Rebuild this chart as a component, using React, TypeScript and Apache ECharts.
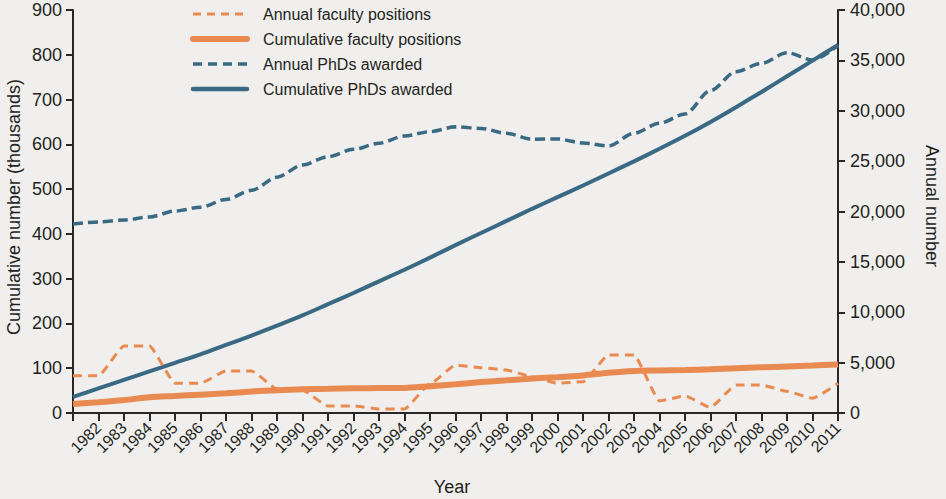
import React, { useEffect, useRef } from "react";
import * as echarts from "echarts";

const years = [
  "1981", "1982", "1983", "1984", "1985", "1986", "1987", "1988", "1989", "1990",
  "1991", "1992", "1993", "1994", "1995", "1996", "1997", "1998", "1999", "2000",
  "2001", "2002", "2003", "2004", "2005", "2006", "2007", "2008", "2009", "2010", "2011",
];

// Right axis (annual number)
const annualFaculty = [
  3700, 3700, 6650, 6650, 2950, 2950, 4170, 4170, 2400, 2250,
  700, 700, 400, 400, 2900, 4760, 4500, 4270, 3600, 2950,
  3100, 5760, 5760, 1200, 1690, 560, 2780, 2780, 2150, 1460, 2950,
];
const annualPhDs = [
  18760, 18960, 19160, 19460, 20050, 20420, 21200, 22100, 23400, 24620,
  25440, 26170, 26770, 27500, 27920, 28400, 28250, 27760, 27170, 27200,
  26800, 26500, 27760, 28760, 29680, 32000, 33880, 34710, 35760, 35040, 36500,
];

// Left axis (cumulative, thousands)
const cumulativeFaculty = [
  20, 24, 29, 35, 38, 41, 44, 48, 51, 53,
  54, 55, 56, 56, 60, 64, 69, 73, 77, 80,
  84, 90, 94, 95, 96, 97.5, 100, 102, 104, 106, 108.5,
];
const cumulativePhDs = [
  36, 55, 74, 93, 112, 131, 152, 173, 195, 218,
  243, 268, 294, 320, 347, 375, 402, 429, 456, 482,
  508, 535, 562, 590, 619, 650, 683, 717, 752, 787, 822,
];

const ORANGE = "#E98A50";
const BLUE = "#396983";
const INK = "#231f20";
const FONT = "'Liberation Sans', Arial, Helvetica, sans-serif";

export default function App() {
  const ref = useRef<HTMLDivElement>(null);

  useEffect(() => {
    document.body.style.margin = "0";
    const chart = echarts.init(ref.current!, null, { renderer: "svg" });
    const axisLine = { show: true, lineStyle: { color: "#2b2626", width: 2 } };
    chart.setOption({
      animation: false,
      backgroundColor: "#F0EFED",
      textStyle: { fontFamily: FONT },
      grid: { left: 73, right: 108, top: 10, bottom: 86, containLabel: false },
      legend: {
        orient: "vertical",
        left: 190,
        top: 4,
        padding: 0,
        itemWidth: 54,
        itemHeight: 14,
        itemGap: 5,
        selectedMode: false,
        itemStyle: { opacity: 0 },
        textStyle: {
          fontFamily: FONT,
          fontSize: 16,
          color: INK,
          lineHeight: 20,
          padding: [0, 0, 0, 11],
        },
        data: [
          { name: "Annual faculty positions", lineStyle: { width: 3, type: [8, 6] } },
          { name: "Cumulative faculty positions", lineStyle: { width: 6, cap: "round" } },
          { name: "Annual PhDs awarded", lineStyle: { width: 3.5, type: [9, 6] } },
          { name: "Cumulative PhDs awarded", lineStyle: { width: 4.5, cap: "round" } },
        ],
      },
      xAxis: {
        type: "category",
        data: years,
        boundaryGap: false,
        axisLine,
        axisTick: { show: true, length: 8, lineStyle: { color: "#2b2626", width: 2 } },
        axisLabel: {
          interval: 0,
          rotate: 45,
          margin: 12,
          fontSize: 16,
          fontFamily: FONT,
          color: INK,
          formatter: (v: string, i: number) => (i === 0 ? "" : v),
        },
        splitLine: { show: false },
      },
      yAxis: [
        {
          type: "value",
          min: 0,
          max: 900,
          interval: 100,
          position: "left",
          axisLine,
          axisTick: { show: true, length: 7, lineStyle: { color: "#2b2626", width: 2 } },
          axisLabel: { margin: 11, fontSize: 18, fontFamily: FONT, color: INK },
          splitLine: { show: false },
        },
        {
          type: "value",
          min: 0,
          max: 40000,
          interval: 5000,
          position: "right",
          axisLine,
          axisTick: { show: true, length: 7, lineStyle: { color: "#2b2626", width: 2 } },
          axisLabel: {
            margin: 12,
            fontSize: 18,
            fontFamily: FONT,
            color: INK,
            formatter: (v: number) => v.toLocaleString("en-US"),
          },
          splitLine: { show: false },
        },
      ],
      graphic: [
        {
          type: "text",
          x: 14,
          y: 207,
          rotation: Math.PI / 2,
          style: {
            text: "Cumulative number (thousands)",
            fontSize: 18,
            fontFamily: FONT,
            fill: INK,
            textAlign: "center",
            textVerticalAlign: "middle",
          },
        },
        {
          type: "text",
          x: 932,
          y: 206,
          rotation: -Math.PI / 2,
          style: {
            text: "Annual number",
            fontSize: 18,
            fontFamily: FONT,
            fill: INK,
            textAlign: "center",
            textVerticalAlign: "middle",
          },
        },
        {
          type: "text",
          x: 452,
          y: 487,
          style: {
            text: "Year",
            fontSize: 18,
            fontFamily: FONT,
            fill: INK,
            textAlign: "center",
            textVerticalAlign: "middle",
          },
        },
      ],
      series: [
        {
          name: "Cumulative PhDs awarded",
          type: "line",
          yAxisIndex: 0,
          data: cumulativePhDs,
          symbol: "none",
          smooth: 0.3,
          lineStyle: { color: BLUE, width: 4 },
          itemStyle: { color: BLUE },
          z: 2,
        },
        {
          name: "Annual PhDs awarded",
          type: "line",
          yAxisIndex: 1,
          data: annualPhDs,
          symbol: "none",
          smooth: 0.3,
          smoothMonotone: "x",
          lineStyle: { color: BLUE, width: 3.5, type: [10, 5] },
          itemStyle: { color: BLUE },
          z: 1,
        },
        {
          name: "Cumulative faculty positions",
          type: "line",
          yAxisIndex: 0,
          data: cumulativeFaculty,
          symbol: "none",
          smooth: 0.3,
          lineStyle: { color: ORANGE, width: 6 },
          itemStyle: { color: ORANGE },
          z: 3,
        },
        {
          name: "Annual faculty positions",
          type: "line",
          yAxisIndex: 1,
          data: annualFaculty,
          symbol: "none",
          smooth: 0.15,
          smoothMonotone: "x",
          lineStyle: { color: ORANGE, width: 3, type: [9, 6] },
          itemStyle: { color: ORANGE },
          z: 4,
        },
      ],
    });
    return () => chart.dispose();
  }, []);

  return (
    <div
      ref={ref}
      style={{ position: "fixed", left: 0, top: 0, width: 946, height: 499 }}
    />
  );
}
